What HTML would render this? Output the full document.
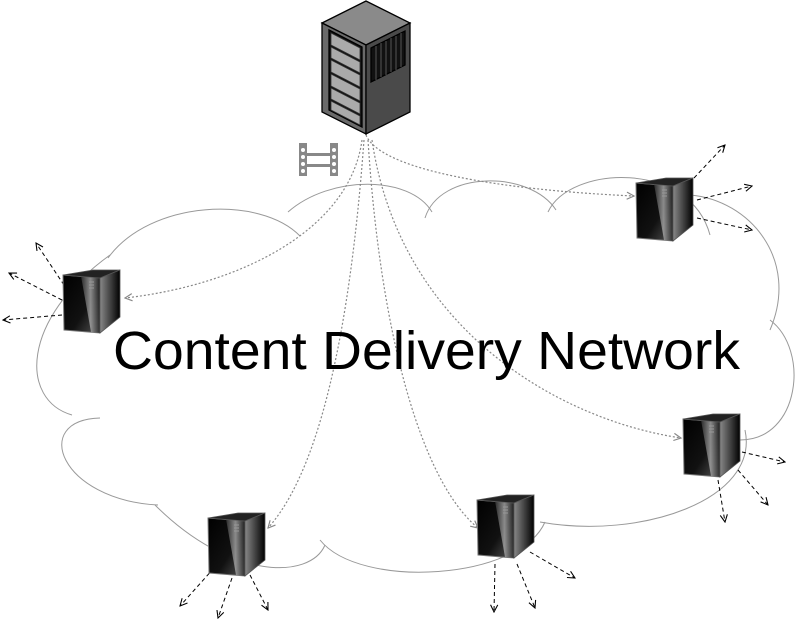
<!DOCTYPE html>
<html><head><meta charset="utf-8"><style>
html,body{margin:0;padding:0;background:#fff;width:799px;height:623px;overflow:hidden}
</style></head><body>
<svg width="799" height="623" viewBox="0 0 799 623" xmlns="http://www.w3.org/2000/svg">
<defs>
<linearGradient id="fg" x1="0" y1="0" x2="1" y2="1">
<stop offset="0" stop-color="#000"/><stop offset="0.6" stop-color="#111"/><stop offset="1" stop-color="#555"/></linearGradient>
<linearGradient id="sh" x1="0" y1="0" x2="1" y2="0">
<stop offset="0" stop-color="#333"/><stop offset="0.5" stop-color="#aaa"/><stop offset="1" stop-color="#222"/></linearGradient>
<linearGradient id="sd" x1="0" y1="0" x2="1" y2="0">
<stop offset="0" stop-color="#888"/><stop offset="1" stop-color="#000"/></linearGradient>
<marker id="ag" viewBox="0 0 10 10" refX="9" refY="5" markerWidth="9" markerHeight="9" orient="auto" markerUnits="userSpaceOnUse">
<path d="M1,1 L9,5 L1,9" fill="none" stroke="#888" stroke-width="1.3"/></marker>
<marker id="ab" viewBox="0 0 10 10" refX="9" refY="5" markerWidth="9" markerHeight="9" orient="auto" markerUnits="userSpaceOnUse">
<path d="M1,1 L9,5 L1,9" fill="none" stroke="#000" stroke-width="1.2"/></marker>
<g id="srv">
<polygon points="0,5 37,8 37,63 1,60" fill="url(#fg)" stroke="#777" stroke-width="1"/>
<polygon points="18,6 37,8 37,63 28,62" fill="url(#sh)" opacity="0.8"/>
<polygon points="0,5 30,0 57,0 37,8" fill="#222" stroke="#555" stroke-width="0.8"/>
<polygon points="37,8 57,0 57,47 37,63" fill="url(#sd)" stroke="#555" stroke-width="0.8"/>
<line x1="26" y1="12" x2="31" y2="12" stroke="#999"/><line x1="26" y1="15" x2="31" y2="15" stroke="#999"/><line x1="26" y1="18" x2="31" y2="18" stroke="#999"/>
</g>
</defs>

<g fill="none" stroke="#999" stroke-width="1">
<path d="M72,415 C20,400 20,320 110,255"/>
<path d="M108,258 C150,200 260,195 300,236"/>
<path d="M288,212 C330,175 410,175 432,212"/>
<path d="M425,218 C440,170 530,170 556,210"/>
<path d="M548,212 C570,165 690,160 710,235"/>
<path d="M690,195 C750,200 800,260 770,330"/>
<path d="M770,320 C810,350 800,440 740,440"/>
<path d="M745,430 C760,500 640,540 540,522"/>
<path d="M545,522 C520,580 360,590 320,540"/>
<path d="M325,545 C310,580 230,580 155,505"/>
<path d="M158,505 C60,500 30,420 100,418"/>
</g>

<g fill="none" stroke="#888" stroke-width="1.2" stroke-dasharray="2,2">
<path d="M366,135 C380,170 500,190 634,196" marker-end="url(#ag)"/>
<path d="M362,140 C350,230 240,285 125,298" marker-end="url(#ag)"/>
<path d="M372,140 C400,330 560,420 681,438" marker-end="url(#ag)"/>
<path d="M368,140 C380,330 420,480 478,528" marker-end="url(#ag)"/>
<path d="M364,140 C350,330 320,470 268,528" marker-end="url(#ag)"/>
</g>

<g fill="none" stroke="#000" stroke-width="1" stroke-dasharray="4,3" marker-end="url(#ab)">
<path d="M64,285 L36,243"/><path d="M62,300 L9,273"/><path d="M62,315 L3,320"/>
<path d="M694,178 L725,145"/><path d="M697,200 L752,186"/><path d="M697,218 L752,230"/>
<path d="M742,452 L785,462"/><path d="M738,470 L768,505"/><path d="M718,480 L725,522"/>
<path d="M530,552 L575,578"/><path d="M517,564 L535,608"/><path d="M495,564 L494,612"/>
<path d="M214,568 L180,606"/><path d="M232,578 L218,618"/><path d="M250,575 L268,610"/>
</g>

<use href="#srv" x="63" y="270"/>
<use href="#srv" x="636" y="178"/>
<use href="#srv" x="683" y="414"/>
<use href="#srv" x="477" y="495"/>
<use href="#srv" x="208" y="513"/>

<g stroke="#000" stroke-width="1.3">
<polygon points="322,23 366,1 410,23 366,45" fill="#8a8a8a"/>
<polygon points="322,23 366,45 366,134 322,112" fill="#6a6a6a"/>
<polygon points="366,45 410,23 410,112 366,134" fill="#4a4a4a"/>
<polygon points="329,30 362,47 362,127 329,110" fill="#111"/>
<g fill="#aaa" stroke="#333" stroke-width="0.8">
<polygon points="331,33 360,48 360,60 331,45"/>
<polygon points="331,47 360,62 360,73 331,58"/>
<polygon points="331,60 360,75 360,87 331,72"/>
<polygon points="331,74 360,89 360,101 331,86"/>
<polygon points="331,88 360,103 360,114 331,99"/>
<polygon points="331,101 360,116 360,125 331,110"/>
</g>
<polygon points="371,48 405,31 405,65 371,82" fill="#111"/>
<g stroke="#555" stroke-width="1"><line x1="376" y1="46" x2="376" y2="80"/><line x1="381" y1="43" x2="381" y2="77"/><line x1="386" y1="41" x2="386" y2="75"/><line x1="391" y1="38" x2="391" y2="72"/><line x1="396" y1="36" x2="396" y2="70"/><line x1="401" y1="33" x2="401" y2="67"/></g>
</g>

<g fill="#888">
<rect x="299" y="143" width="8" height="33"/><rect x="330" y="143" width="8" height="33"/>
<rect x="307" y="153" width="23" height="3"/><rect x="307" y="164" width="23" height="3"/>
</g>
<g fill="#fff"><circle cx="303" cy="150" r="2"/><circle cx="303" cy="157" r="2"/><circle cx="303" cy="164" r="2"/><circle cx="303" cy="171" r="2"/>
<circle cx="334" cy="150" r="2"/><circle cx="334" cy="157" r="2"/><circle cx="334" cy="164" r="2"/><circle cx="334" cy="171" r="2"/></g>

<text x="113" y="369" font-family="Liberation Sans, sans-serif" font-size="54" textLength="627" lengthAdjust="spacingAndGlyphs" fill="#000">Content Delivery Network</text>
</svg>
</body></html>
